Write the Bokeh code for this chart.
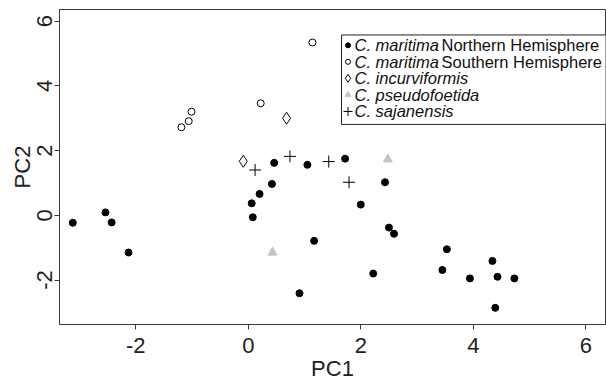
import math
from bokeh.plotting import figure
from bokeh.models import Range1d, FixedTicker
from bokeh.core.properties import value
from bokeh.embed import file_html
from bokeh.resources import INLINE

# ---- data ----
nh_x = [-3.12, -2.54, -2.43, -2.13, 0.06, 0.08, 0.20, 0.42, 0.46, 0.91, 1.05, 1.17, 1.72,
        2.00, 2.22, 2.43, 2.50, 2.59, 3.45, 3.53, 3.94, 4.34, 4.39, 4.43, 4.73]
nh_y = [-0.23, 0.09, -0.22, -1.15, 0.37, -0.06, 0.66, 0.97, 1.62, -2.41, 1.56, -0.79, 1.75,
        0.33, -1.80, 1.02, -0.38, -0.57, -1.69, -1.05, -1.95, -1.41, -2.86, -1.90, -1.95]
sh_x = [-1.19, -1.06, -1.01, 0.22, 1.14]
sh_y = [2.72, 2.91, 3.20, 3.46, 5.34]
inc_x = [-0.09, 0.68]
inc_y = [1.67, 3.00]
pse_x = [0.43, 2.48]
pse_y = [-1.15, 1.73]
saj_x = [0.12, 0.74, 1.43, 1.79]
saj_y = [1.40, 1.82, 1.66, 1.02]

x_ticks = [-2, 0, 2, 4, 6]
y_ticks = [-2, 0, 2, 4, 6]
tick_text = {-2: "-2", 0: "0", 2: "2", 4: "4", 6: "6"}

legend_italic = ["C. maritima", "C. maritima", "C. incurviformis", "C. pseudofoetida", "C. sajanensis"]
legend_plain = ["Northern Hemisphere", "Southern Hemisphere", "", "", ""]

FONT = "Liberation Sans"
AX = "#3a3a3a"
GRAY = "#c4c4c4"

p = figure(width=606, height=385, output_backend="svg", toolbar_location=None,
           x_range=Range1d(-3.357, 6.35), y_range=Range1d(-3.375, 6.36),
           min_border_left=59, min_border_right=1, min_border_top=9, min_border_bottom=61)
p.background_fill_color = "white"
p.border_fill_color = "white"
p.outline_line_color = AX
p.outline_line_width = 1
p.xgrid.visible = False
p.ygrid.visible = False

for ax, ticks in ((p.xaxis[0], x_ticks), (p.yaxis[0], y_ticks)):
    ax.ticker = FixedTicker(ticks=ticks)
    ax.major_label_overrides = tick_text
    ax.axis_line_color = AX
    ax.major_tick_line_color = AX
    ax.major_tick_out = 5
    ax.major_tick_in = 0
    ax.minor_tick_line_color = None
    ax.major_label_text_font = FONT
    ax.major_label_text_font_size = "22px"
    ax.major_label_text_color = "#222222"
    ax.axis_label_text_font = FONT
    ax.axis_label_text_font_size = "22px"
    ax.axis_label_text_font_style = "normal"
    ax.axis_label_text_color = "#222222"

p.xaxis.axis_label = "PC1"
p.yaxis.axis_label = "PC2"
p.xaxis.major_label_standoff = 8
p.xaxis.axis_label_standoff = 0
p.yaxis.major_label_orientation = "vertical"
p.yaxis.major_label_standoff = 2
p.yaxis.axis_label_standoff = 0

# ---- data marks ----
p.scatter(nh_x, nh_y, marker="circle", size=7, fill_color="black", line_color="black")
p.scatter(sh_x, sh_y, marker="circle", size=7, fill_color="white", line_color="black", line_width=1)
p.scatter(inc_x, inc_y, marker="diamond", size=12, fill_color="white", line_color="black", line_width=1)
p.scatter(pse_x, pse_y, marker="triangle", size=9, fill_color=GRAY, line_color=GRAY)
p.scatter(saj_x, saj_y, marker="cross", size=12, line_color="black", line_width=1)

# ---- hand-made legend (mixed italic / plain labels) ----
lg_left, lg_top, lg_bottom = 1.657, 5.573, 2.808
p.quad(left=[lg_left], right=[7.0], top=[lg_top], bottom=[lg_bottom],
       fill_color="white", line_color="#222222", line_width=1)
row0, row_step = 5.254, 0.511
mark_x, text_x = 1.773, 1.888
rows_y = [row0 - i * row_step for i in range(5)]
p.scatter([mark_x], [rows_y[0]], marker="circle", size=5, fill_color="black", line_color="black")
p.scatter([mark_x], [rows_y[1]], marker="circle", size=5, fill_color="white", line_color="black")
p.scatter([mark_x], [rows_y[2]], marker="diamond", size=8, fill_color="white", line_color="black")
p.scatter([mark_x], [rows_y[3]], marker="triangle", size=6, fill_color=GRAY, line_color=GRAY)
p.scatter([mark_x], [rows_y[4]], marker="cross", size=9, line_color="black")

p.text(x=[text_x] * 5, y=rows_y, text=legend_italic, text_font=value(FONT),
       text_font_size="16.5px", text_font_style="italic", text_baseline="middle",
       text_align="left", text_color="#111111")
p.text(x=[text_x] * 2, y=rows_y[:2], text=legend_plain[:2], x_offset=87, text_font=value(FONT),
       text_font_size="16.5px", text_baseline="middle", text_align="left", text_color="#111111")

open("out.html", "w").write(file_html(p, INLINE))
